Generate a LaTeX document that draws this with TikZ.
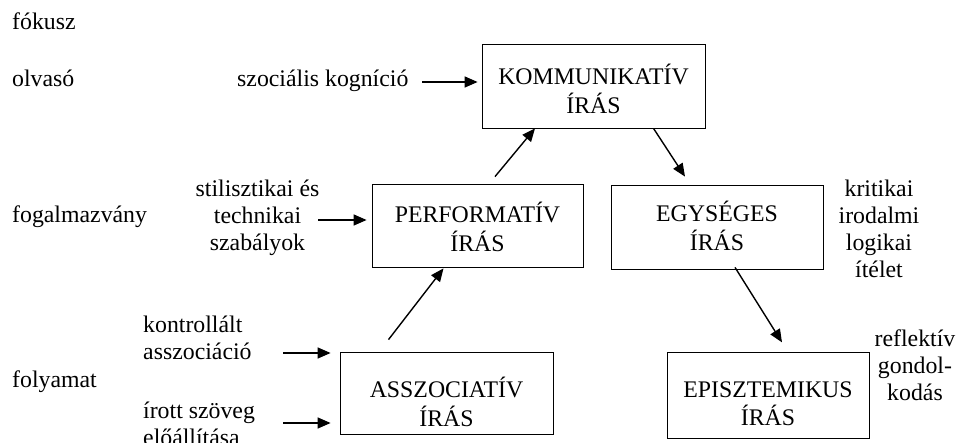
\documentclass[tikz,border=0pt]{standalone}
\usepackage{fontspec}
\setmainfont{Liberation Serif}
\usetikzlibrary{arrows.meta,calc}
\newcommand{\mlc}[1]{\begin{tabular}[t]{@{}c@{}}#1\end{tabular}}
\newcommand{\mll}[1]{\begin{tabular}[t]{@{}l@{}}#1\end{tabular}}
\begin{document}
\begin{tikzpicture}[x=1pt,y=-1pt,
  font=\fontsize{23.8}{27}\selectfont,
  bx/.style 2 args={draw, line width=0.8pt, inner sep=0pt, text height=#1, text depth=#2},
  lbl/.style={inner sep=0pt},
  arr/.style={line width=1.4pt, -{Triangle[length=13pt,width=11pt]}}]
\useasboundingbox (0,0) rectangle (961,443);

% boxes
\node[bx={30pt}{32pt}, minimum width=223pt, minimum height=84pt] (komm) at (593.5,86) {\mlc{KOMMUNIKATÍV\\ÍRÁS}};
\node[bx={28.5pt}{33.5pt}, minimum width=211pt, minimum height=83pt] (perf) at (477.5,225.5) {\mlc{PERFORMATÍV\\ÍRÁS}};
\node[bx={26pt}{36pt}, minimum width=212pt, minimum height=84pt] (egy) at (717,227) {\mlc{EGYSÉGES\\ÍRÁS}};
\node[bx={36pt}{26pt}, minimum width=213pt, minimum height=82pt] (assz) at (446.5,393) {\mlc{ASSZOCIATÍV\\ÍRÁS}};
\node[bx={32.5pt}{29.5pt}, minimum width=202pt, minimum height=85.5pt] (episz) at (768,395.5) {\mlc{EPISZTEMIKUS\\ÍRÁS}};

% left column
\node[lbl, anchor=base west] (fokusz) at (12,30) {fókusz};
\node[lbl, anchor=base west] (olvaso) at (12,86.7) {olvasó};
\node[lbl, anchor=base west] (fogalm) at (12,222.7) {fogalmazvány};
\node[lbl, anchor=base west] (folyam) at (12,388) {folyamat};

% side labels
\node[lbl, anchor=base west] (szoc) at (237,86.7) {szociális kogníció};
\node[lbl, anchor=base] (stil) at (257.5,197) {\mlc{stilisztikai és\\technikai\\szabályok}};
\node[lbl, anchor=base west] (kontr) at (143,333) {\mll{kontrollált\\asszociáció}};
\node[lbl, anchor=base west] (irott) at (143,418) {\mll{írott szöveg\\előállítása}};
\node[lbl, anchor=base] (krit) at (879,197) {\mlc{kritikai\\irodalmi\\logikai\\ítélet}};
\node[lbl, anchor=base] (refl) at (915,347) {\mlc{reflektív\\gondol-\\kodás}};

% free ends of input arrows
\coordinate (tszoc) at (422,82);
\coordinate (tstil) at (318,220);
\coordinate (tkontr) at (283,353);
\coordinate (tirott) at (283,423);

\draw[arr] (tszoc) -- ($(komm.west)+(-4,-4)$);
\draw[arr] (tstil) -- ($(perf.west)+(-5,-5.5)$);
\draw[arr] (tkontr) -- ($(assz.west)+(-9,-40)$);
\draw[arr] (tirott) -- ($(assz.west)+(-9,30)$);

% box to box arrows
\draw[arr] ($(perf.north)+(17.5,-7)$) -- ($(komm.south)+(-58.5,0)$);
\draw[arr] ($(komm.south)+(60,0)$) -- ($(egy.north)+(-32,-8)$);
\draw[arr] ($(assz.north)+(-58,-12)$) -- ($(perf.south)+(-34,1)$);
\draw[arr] ($(egy.south)+(18,-2)$) -- ($(episz.north)+(14,-10)$);
\end{tikzpicture}
\end{document}
